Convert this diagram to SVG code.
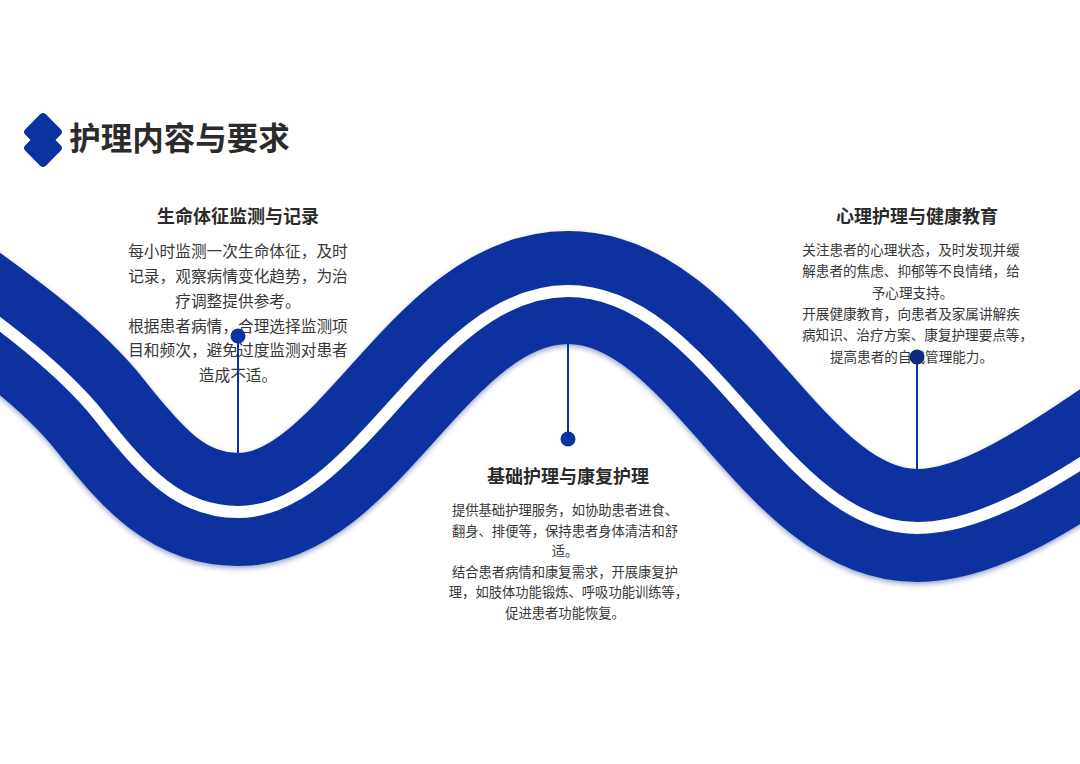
<svg xmlns="http://www.w3.org/2000/svg" width="1080" height="764" viewBox="0 0 1080 764">
<style>
text{font-family:"Noto Sans CJK SC","Noto Sans",sans-serif;text-anchor:middle;fill:#383838}
.h{font-size:18px;font-weight:700;fill:#2b2b2b}
.a{font-size:15.7px}.b{font-size:13.3px}.c{font-size:13.6px}
.l{stroke:#0a33a0;stroke-width:2;fill:none}
</style>
<defs><filter id="s" filterUnits="userSpaceOnUse" x="-100" y="150" width="1300" height="500"><feDropShadow dx="0" dy="2.500" stdDeviation="2.500" flood-color="#0a2a80" flood-opacity=".4"/></filter></defs>
<rect width="1080" height="764" fill="#fff"/>
<g id="logo" fill="#0a33a0"><rect x="28.500" y="117.500" width="29" height="29" rx="4" transform="rotate(45 43 132)"/><rect x="28.500" y="133.500" width="29" height="29" rx="4" transform="rotate(45 43 148)"/></g>
<text id="title" x="179.500" y="150" style="font-size:31.500px;font-weight:700;fill:#2b2b2b">护理内容与要求</text>
<g id="wave">
<path d="M-70,272 C-25,305 55,358 100,415 C145,472 180,509.500 238,509.500 C360,509.500 430,287.500 568,287.500 C710,287.500 780,525.500 917,525.500 C985,525.500 1060,471 1150,410" stroke="#0a33a0" stroke-width="113" fill="none" filter="url(#s)"/>
<path d="M-70,272 C-25,306 55,360 100,417 C145,474 180,512 238,512 C360,512 430,291 568,291 C710,291 780,528 917,528 C985,528 1060,479 1150,418" stroke="#fff" stroke-width="12" fill="none"/>
</g>
<g id="node-1"><text class="h" x="238" y="223">生命体征监测与记录</text>
<text class="a" x="238" y="257">每小时监测一次生命体征&#65292;及时</text><text class="a" x="238" y="282">记录&#65292;观察病情变化趋势&#65292;为治</text><text class="a" x="238" y="306.500">疗调整提供参考。</text><text class="a" x="238" y="331.500">根据患者病情&#65292;合理选择监测项</text><text class="a" x="238" y="356">目和频次&#65292;避免过度监测对患者</text><text class="a" x="238" y="381">造成不适。</text></g>
<g id="node-2"><text class="h" x="568" y="483">基础护理与康复护理</text>
<text class="b" x="565" y="515">提供基础护理服务&#65292;如协助患者进食、</text><text class="b" x="565" y="536">翻身、排便等&#65292;保持患者身体清洁和舒</text><text class="b" x="565" y="556">适。</text><text class="b" x="565" y="577">结合患者病情和康复需求&#65292;开展康复护</text><text class="b" x="568.500" y="597">理&#65292;如肢体功能锻炼、呼吸功能训练等&#65292;</text><text class="b" x="565" y="618">促进患者功能恢复。</text></g>
<g id="node-3"><text class="h" x="917" y="223">心理护理与健康教育</text>
<text class="c" x="911" y="255">关注患者的心理状态&#65292;及时发现并缓</text><text class="c" x="911" y="276">解患者的焦虑、抑郁等不良情绪&#65292;给</text><text class="c" x="912.500" y="298">予心理支持。</text><text class="c" x="911" y="319">开展健康教育&#65292;向患者及家属讲解疾</text><text class="c" x="917.500" y="340">病知识、治疗方案、康复护理要点等&#65292;</text><text class="c" x="911.500" y="362">提高患者的自我管理能力。</text></g>
<g id="connectors"><path class="l" d="M238,336V454"/><path class="l" d="M568,344V439"/><path class="l" d="M917,357V470"/>
<circle cx="238" cy="336" r="7.500" fill="#0a33a0"/><circle cx="568" cy="439" r="7.500" fill="#0a33a0"/><circle cx="917" cy="357" r="7.500" fill="#0e2a7a"/></g>
</svg>
